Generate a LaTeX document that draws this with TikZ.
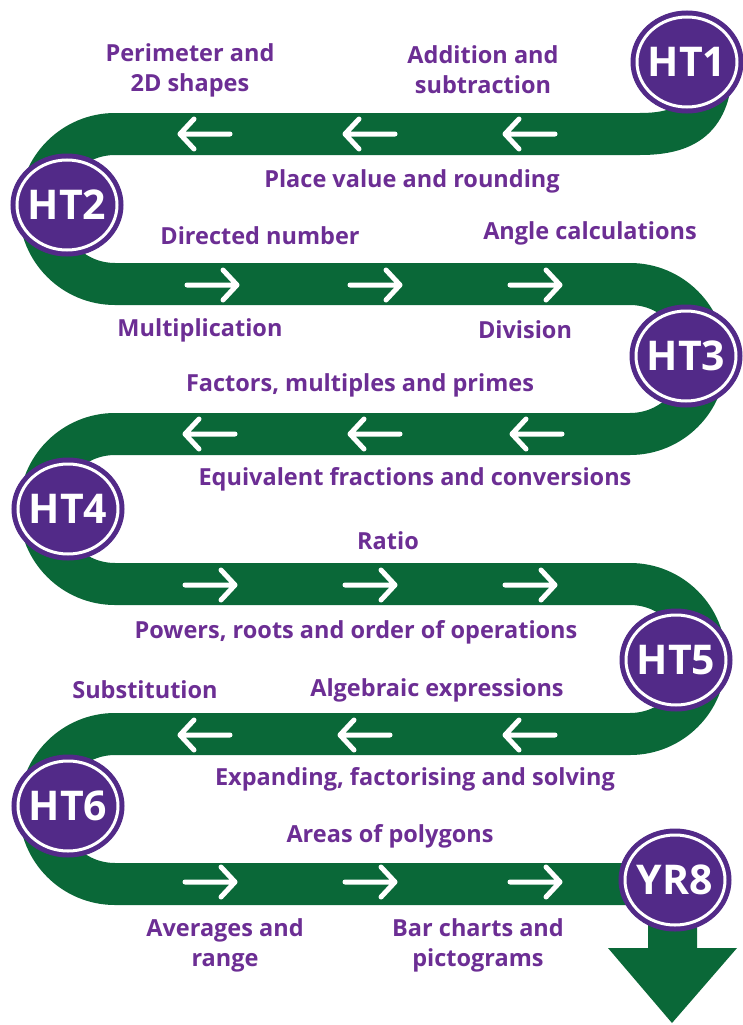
\documentclass[tikz,border=0pt]{standalone}
\usepackage{fontspec}
\setmainfont{Open Sans}
\usetikzlibrary{shapes.geometric}
\definecolor{band}{RGB}{10,104,56}
\definecolor{circ}{RGB}{82,42,136}
\definecolor{txt}{RGB}{108,46,148}
\begin{document}
\begin{tikzpicture}[x=1pt,y=1pt,
  lbl/.style={text=txt,font=\bfseries\fontsize{23.5}{30}\selectfont,align=center,inner sep=0pt},
  ht/.style={ellipse,fill=circ,draw=circ,line width=1pt,minimum width=112pt,minimum height=102pt,inner sep=0pt,
     text=white,font=\bfseries\fontsize{41}{44}\selectfont},
  ring/.style={white,line width=3pt},
  bandline/.style={draw=band,line width=42pt},
  rarrow/.pic={\draw[white,line width=5pt,line cap=round,line join=round] (-25,0)--(25,0) (11,15)--(25,0)--(11,-15);},
  larrow/.pic={\draw[white,line width=5pt,line cap=round,line join=round] (25,0)--(-25,0) (-11,15)--(-25,0)--(-11,-15);}
]
\useasboundingbox (0,0) rectangle (742,-1025);
\fill[white] (0,0) rectangle (742,-1025);
% serpentine band
\draw[bandline] (712,-60) .. controls (712,-115) and (690,-134) .. (640,-134)
  -- (115,-134) arc[start angle=90,end angle=270,radius=75]
  -- (630,-284) arc[start angle=90,end angle=-90,radius=75]
  -- (115,-434) arc[start angle=90,end angle=270,radius=75]
  -- (630,-584) arc[start angle=90,end angle=-90,radius=75]
  -- (115,-734) arc[start angle=90,end angle=270,radius=75]
  -- (675,-884);
% down arrow
\fill[band] (648,-880) -- (697,-880) -- (697,-948) -- (737,-948) -- (672,-1023) -- (608,-948) -- (648,-948) -- cycle;
% direction arrows
\foreach \x in {205,370,530} \pic at (\x,-134) {larrow};
\foreach \x in {212,375,535} \pic at (\x,-285) {rarrow};
\foreach \x in {210,375,537} \pic at (\x,-434) {larrow};
\foreach \x in {210,370,530} \pic at (\x,-585) {rarrow};
\foreach \x in {205,365,530} \pic at (\x,-735) {larrow};
\foreach \x in {210,370,535} \pic at (\x,-882) {rarrow};
% stations
\node[ht] (ht1) at (687,-62) {HT1};
\node[ht] (ht2) at (67,-205) {HT2};
\node[ht] (ht3) at (686,-356) {HT3};
\node[ht] (ht4) at (68,-509) {HT4};
\node[ht] (ht5) at (676,-660) {HT5};
\node[ht] (ht6) at (68,-806) {HT6};
\node[ht] (yr8) at (675,-880) {YR8};
\foreach \n in {ht1,ht2,ht3,ht4,ht5,ht6,yr8}
  \draw[ring] (\n.center) ellipse[x radius=50,y radius=45];
% labels
\node[lbl] (l1) at (190,-70) {Perimeter and\\2D shapes};
\node[lbl] (l2) at (483,-70) {Addition and\\subtraction};
\node[lbl] (l3) at (412,-181) {Place value and rounding};
\node[lbl] (l4) at (260,-236) {Directed number};
\node[lbl] (l5) at (590,-233) {Angle calculations};
\node[lbl] (l6) at (200,-330) {Multiplication};
\node[lbl] (l7) at (525,-330) {Division};
\node[lbl] (l8) at (360,-385) {Factors, multiples and primes};
\node[lbl] (l9) at (415,-479) {Equivalent fractions and conversions};
\node[lbl] (l10) at (388,-541) {Ratio};
\node[lbl] (l11) at (356,-632) {Powers, roots and order of operations};
\node[lbl] (l12) at (145,-690) {Substitution};
\node[lbl] (l13) at (437,-690) {Algebraic expressions};
\node[lbl] (l14) at (415,-779) {Expanding, factorising and solving};
\node[lbl] (l15) at (390,-836) {Areas of polygons};
\node[lbl] (l16) at (225,-945) {Averages and\\range};
\node[lbl] (l17) at (478,-945) {Bar charts and\\pictograms};
\end{tikzpicture}
\end{document}
